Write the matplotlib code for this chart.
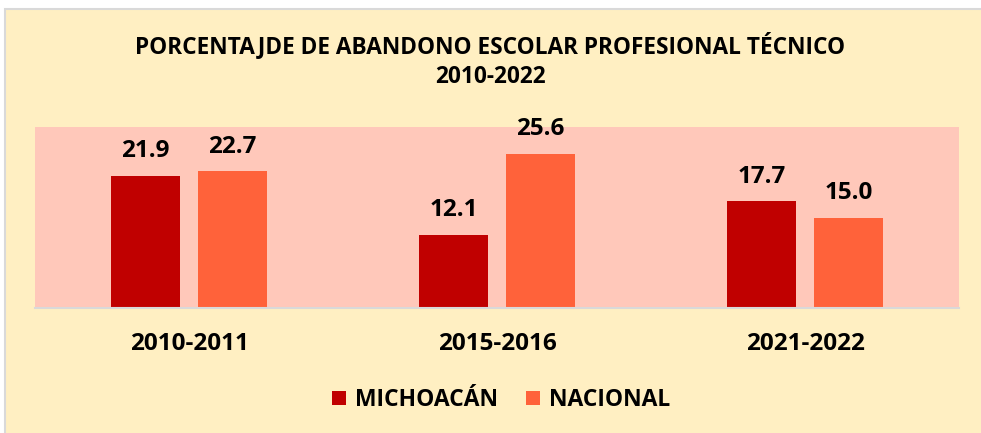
import matplotlib.pyplot as plt
from matplotlib.patches import Rectangle
import numpy as np

periodos = ["2010-2011", "2015-2016", "2021-2022"]
michoacan = [21.9, 12.1, 17.7]
nacional = [22.7, 25.6, 15.0]
series = ["MICHOACÁN", "NACIONAL"]

FONDO = "#FFEFC2"
AREA = "#FFC8BA"
ROJO = "#C00000"
NARANJA = "#FF623A"

plt.rcParams["font.family"] = ["Open Sans", "DejaVu Sans"]
plt.rcParams["font.weight"] = "bold"

fig = plt.figure(figsize=(9.81, 4.33), dpi=100, facecolor="white")
# fondo amarillo con borde gris (el recorte corta los bordes derecho e inferior)
fig.patches.append(Rectangle((5 / 981, -0.01), 1.0, 1 - 9 / 433 + 0.01,
                             transform=fig.transFigure, facecolor=FONDO,
                             edgecolor="#D9D9D9", linewidth=1.5, zorder=-10))

ax = fig.add_axes([35 / 981, 1 - 308 / 433, 924 / 981, 181 / 433])
ax.set_facecolor(AREA)

x = np.arange(len(periodos))
w = 0.224
off = 0.141
b1 = ax.bar(x - off, michoacan, w, color=ROJO, label=series[0])
b2 = ax.bar(x + off, nacional, w, color=NARANJA, label=series[1])

for bars in (b1, b2):
    for r in bars:
        ax.annotate(f"{r.get_height():.1f}", (r.get_x() + r.get_width() / 2, r.get_height()),
                    xytext=(0, 9), textcoords="offset points", ha="center", va="bottom",
                    fontsize=17.5, fontweight="bold")

ax.set_xlim(-0.5, 2.5)
ax.set_ylim(0, 30)
ax.set_yticks([])
ax.set_xticks(x)
ax.set_xticklabels(periodos, fontsize=17.5, fontweight="bold")
ax.tick_params(axis="x", length=0, pad=17)
for s in ["top", "left", "right"]:
    ax.spines[s].set_visible(False)
ax.spines["bottom"].set_color("#D9D9D9")
ax.spines["bottom"].set_linewidth(1.5)

fig.text(0.5, 1 - 46 / 433, "PORCENTAJDE DE ABANDONO ESCOLAR PROFESIONAL TÉCNICO",
         ha="center", va="center", fontsize=16.3, fontweight="bold")
fig.text(0.5, 1 - 77 / 433, "2010-2022", ha="center", va="center",
         fontsize=16.3, fontweight="bold")

fig.legend(loc="center", bbox_to_anchor=(0.511, 1 - 400 / 433), ncol=2, frameon=False,
           prop={"size": 16.5, "weight": "bold"}, handlelength=0.6, handleheight=0.6,
           handletextpad=0.4, columnspacing=1.2)

fig.savefig("out.png", dpi=100, facecolor="white")
